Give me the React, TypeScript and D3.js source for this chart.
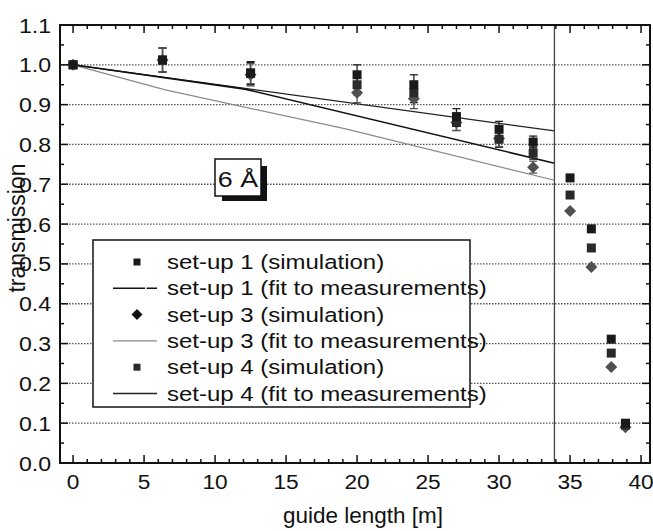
import React from 'react';
import * as d3 from 'd3';

const W = 653;
const H = 531;

// guide positions [m]
const xPositions = [0, 6.3, 12.5, 20, 24, 27, 30, 32.4, 35, 36.5, 37.9, 38.9];
// simulated transmissions
const setup1Sim = [1.0, 1.012, 0.98, 0.975, 0.95, 0.87, 0.838, 0.806, 0.716, 0.588, 0.311, 0.1];
const setup4Sim = [1.0, 1.012, 0.978, 0.95, 0.93, 0.855, 0.813, 0.778, 0.673, 0.54, 0.276, 0.095];
const setup3Sim = [1.0, 1.012, 0.975, 0.93, 0.915, 0.855, 0.815, 0.743, 0.633, 0.492, 0.241, 0.09];
// half-height of error bars (first measured points only)
const errorHalf = [0, 0.03, 0.028, 0.025, 0.025, 0.02, 0.02, 0.015];

// fits to measurements
const fit1X = [0, 12.1, 33.9];
const fit1Y = [1.0, 0.939, 0.753];
const fit3X = [0, 6.5, 19.2, 33.9];
const fit3Y = [1.0, 0.937, 0.839, 0.71];
const fit4X = [0, 33.9];
const fit4Y = [1.0, 0.834];

const guideEnd = 33.9;

const xTicks = [0, 5, 10, 15, 20, 25, 30, 35, 40];
const xMinorTicks = d3.range(0, 41, 1);
const yTicks = [0, 0.1, 0.2, 0.3, 0.4, 0.5, 0.6, 0.7, 0.8, 0.9, 1.0, 1.1];
const yMinorTicks = d3.range(0.05, 1.1, 0.1);
const gridValues = [0.1, 0.2, 0.3, 0.4, 0.5, 0.6, 0.7, 0.8, 0.9, 1.0];

const legendLabels = [
  'set-up 1 (simulation)',
  'set-up 1 (fit to measurements)',
  'set-up 3 (simulation)',
  'set-up 3 (fit to measurements)',
  'set-up 4 (simulation)',
  'set-up 4 (fit to measurements)',
];

const FONT = '"Liberation Sans", Arial, sans-serif';
const L = 60, R = 650, T = 25, B = 463;

export default function App() {
  const x = d3.scaleLinear().domain([-0.92, 40.63]).range([L, R]);
  const y = d3.scaleLinear().domain([0, 1.1]).range([B, T]);
  const line = d3.line<[number, number]>().x(d => x(d[0])).y(d => y(d[1]));

  const fit1 = line(fit1X.map((v, i) => [v, fit1Y[i]]) as [number, number][]) || '';
  const fit3 = line(fit3X.map((v, i) => [v, fit3Y[i]]) as [number, number][]) || '';
  const fit4 = line(fit4X.map((v, i) => [v, fit4Y[i]]) as [number, number][]) || '';

  const sq = (cx: number, cy: number, s: number, fill: string, key: string) => (
    <rect key={key} x={cx - s / 2} y={cy - s / 2} width={s} height={s} fill={fill} />
  );
  const dia = (cx: number, cy: number, s: number, fill: string, key: string) => (
    <path key={key} d={`M${cx},${cy - s}L${cx + s},${cy}L${cx},${cy + s}L${cx - s},${cy}Z`} fill={fill} />
  );

  const seriesErr = [setup1Sim, setup4Sim, setup3Sim];

  const legendTop = 262;
  const legendStep = 26.3;

  return (
    <svg width={W} height={H} style={{ position: 'absolute', left: 0, top: 0, background: '#fff' }} fontFamily={FONT}>
      <rect x={0} y={0} width={W} height={H} fill="#fff" />
      {/* grid */}
      {gridValues.map(v => (
        <line key={'g' + v} x1={L} x2={R} y1={y(v)} y2={y(v)} stroke="#555" strokeWidth={1.3} strokeDasharray="1.5 1.5" />
      ))}
      {/* fits */}
      <path d={fit3} fill="none" stroke="#8a8a8a" strokeWidth={1.2} />
      <path d={fit4} fill="none" stroke="#222" strokeWidth={1.3} />
      <path d={fit1} fill="none" stroke="#111" strokeWidth={1.6} />
      {/* guide end */}
      <line x1={x(guideEnd)} x2={x(guideEnd)} y1={T} y2={B} stroke="#444" strokeWidth={1.3} />
      {/* error bars */}
      {seriesErr.map((s, si) =>
        errorHalf.map((e, i) => {
          if (e <= 0) return null;
          const cx = x(xPositions[i]);
          return (
            <g key={`e${si}-${i}`} stroke={si === 2 ? '#555' : '#222'} strokeWidth={1.3}>
              <line x1={cx} x2={cx} y1={y(s[i] + e)} y2={y(s[i] - e)} />
              <line x1={cx - 4} x2={cx + 4} y1={y(s[i] + e)} y2={y(s[i] + e)} />
              <line x1={cx - 4} x2={cx + 4} y1={y(s[i] - e)} y2={y(s[i] - e)} />
            </g>
          );
        })
      )}
      {/* markers */}
      {setup3Sim.map((v, i) => dia(x(xPositions[i]), y(v), 6, '#505050', 'd' + i))}
      {setup4Sim.map((v, i) => sq(x(xPositions[i]), y(v), 9, '#2a2a2a', 's4' + i))}
      {setup1Sim.map((v, i) => sq(x(xPositions[i]), y(v), 9, '#1a1a1a', 's1' + i))}

      {/* legend */}
      <rect x={93} y={240} width={377} height={167} fill="#fff" stroke="#222" strokeWidth={1.6} />
      {legendLabels.map((lab, i) => {
        const cy = legendTop + i * legendStep;
        let sym: React.ReactNode = null;
        if (i === 0) sym = sq(137, cy, 7, '#1a1a1a', 'ls0');
        if (i === 2) sym = dia(137, cy, 5.5, '#111', 'ld');
        if (i === 4) sym = sq(137, cy, 7, '#2a2a2a', 'ls4');
        if (i === 1) sym = <line x1={113} x2={157} y1={cy} y2={cy} stroke="#111" strokeWidth={1.4} strokeDasharray="32 1.5 11" />;
        if (i === 3) sym = <line x1={113} x2={157} y1={cy} y2={cy} stroke="#8a8a8a" strokeWidth={1.1} />;
        if (i === 5) sym = <line x1={113} x2={157} y1={cy} y2={cy} stroke="#222" strokeWidth={1.3} />;
        return (
          <g key={'l' + i}>
            {sym}
            <text transform={`translate(167,${cy + 7}) scale(1.17,1)`} fontSize={20.5} fill="#111">{lab}</text>
          </g>
        );
      })}

      {/* 6 Å label */}
      <rect x={222} y={166} width={45} height={35} fill="#111" />
      <rect x={215} y={159} width={46} height={37} fill="#fff" stroke="#111" strokeWidth={1.5} />
      <text transform="translate(238,187) scale(1.22,1)" fontSize={22} textAnchor="middle" fill="#111">6 Å</text>

      {/* ticks */}
      {xMinorTicks.map(v => {
        const major = v % 5 === 0;
        const len = major ? 8 : 4;
        return (
          <g key={'xt' + v} stroke="#111" strokeWidth={1.5}>
            <line x1={x(v)} x2={x(v)} y1={B} y2={B - len} />
            <line x1={x(v)} x2={x(v)} y1={T} y2={T + len} />
          </g>
        );
      })}
      {yTicks.map(v => (
        <g key={'yt' + v} stroke="#111" strokeWidth={1.5}>
          <line x1={L} x2={L + 8} y1={y(v)} y2={y(v)} />
          <line x1={R} x2={R - 8} y1={y(v)} y2={y(v)} />
        </g>
      ))}
      {yMinorTicks.map(v => (
        <g key={'ym' + v} stroke="#111" strokeWidth={1.5}>
          <line x1={L} x2={L + 4} y1={y(v)} y2={y(v)} />
          <line x1={R} x2={R - 4} y1={y(v)} y2={y(v)} />
        </g>
      ))}
      {/* frame */}
      <rect x={L} y={T} width={R - L} height={B - T} fill="none" stroke="#111" strokeWidth={2} />

      {/* tick labels */}
      {xTicks.map(v => (
        <text key={'xl' + v} transform={`translate(${x(v)},489) scale(1.08,1)`} fontSize={21} textAnchor="middle" fill="#111">{v}</text>
      ))}
      {yTicks.map(v => (
        <text key={'yl' + v} transform={`translate(51,${y(v) + 7.5}) scale(1.1,1)`} fontSize={21} textAnchor="end" fill="#111">{v.toFixed(1)}</text>
      ))}

      {/* axis titles */}
      <text x={363} y={523} fontSize={22.5} textAnchor="middle" fill="#111">guide length [m]</text>
      <text transform={`translate(25,228) rotate(-90)`} fontSize={23} textAnchor="middle" fill="#111">transmission</text>
    </svg>
  );
}
